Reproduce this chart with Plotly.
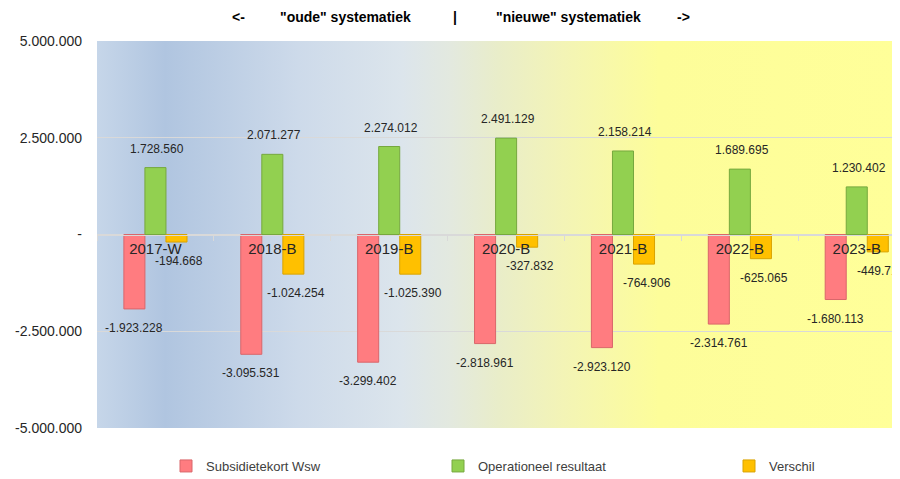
import base64
import plotly.graph_objects as go

categories = ["2017-W", "2018-B", "2019-B", "2020-B", "2021-B", "2022-B", "2023-B"]
subsidietekort = [-1923228, -3095531, -3299402, -2818961, -2923120, -2314761, -1680113]
operationeel = [1728560, 2071277, 2274012, 2491129, 2158214, 1689695, 1230402]
verschil = [-194668, -1024254, -1025390, -327832, -764906, -625065, -449711]

series_names = ["Subsidietekort Wsw", "Operationeel resultaat", "Verschil"]
series_values = [subsidietekort, operationeel, verschil]
series_colors = ["#ff7c80", "#92d050", "#ffc000"]
series_lines = ["#d9666a", "#76a83e", "#d9a300"]

ytickvals = [-5000000, -2500000, 0, 2500000, 5000000]
yticktext = ["-5.000.000", "-2.500.000", "-", "2.500.000", "5.000.000"]

def fmt(v):
    return f"{v:,}".replace(",", ".")

# background gradient (SVG data uri)
stops = [(0.0, "#c6d6e9"), (0.085, "#b0c5e0"), (0.25, "#cddaea"), (0.38, "#dce5ec"),
         (0.44, "#e3e9df"), (0.50, "#e9edc9"), (0.58, "#f3f4b6"), (0.70, "#fdfd9a"),
         (1.0, "#ffff99")]
stop_xml = "".join(f'<stop offset="{o}" stop-color="{c}"/>' for o, c in stops)
svg = ('<svg xmlns="http://www.w3.org/2000/svg" width="800" height="400" preserveAspectRatio="none">'
       '<defs><linearGradient id="g" x1="0" y1="0" x2="1" y2="0">' + stop_xml +
       '</linearGradient></defs><rect width="800" height="400" fill="url(#g)"/></svg>')
svg_uri = "data:image/svg+xml;base64," + base64.b64encode(svg.encode()).decode()

fig = go.Figure()
legend_ids = ["legend", "legend2", "legend3"]
for name, vals, col, lc, lg in zip(series_names, series_values, series_colors, series_lines, legend_ids):
    fig.add_trace(go.Bar(
        x=categories, y=vals, name=name, legend=lg,
        marker=dict(color=col, line=dict(color=lc, width=1)),
        hoverinfo="x+y+name",
    ))

bargap = 0.46
bw = (1 - bargap) / 3
offsets = [-bw, 0, bw]
xshifts = [0, 2, 3]
annotations = []
for k, vals in enumerate(series_values):
    for j, v in enumerate(vals):
        annotations.append(dict(
            x=j + offsets[k], y=v, xref="x", yref="y", text=fmt(v), showarrow=False,
            yshift=19 if v > 0 else -19, xshift=xshifts[k],
            font=dict(family="Liberation Sans, Arial, sans-serif", size=12, color="#262626"),
        ))

title_font = dict(family="Liberation Sans, Arial, sans-serif", size=14, color="#000000")
title_parts = [("<b><-</b>", 238), ('<b>"oude" systematiek</b>', 345), ("<b>|</b>", 455),
               ('<b>"nieuwe" systematiek</b>', 568), ("<b>-></b>", 683)]
for txt, px in title_parts:
    annotations.append(dict(x=(px - 97) / 803, y=1, xref="paper", yref="paper",
                            xanchor="center", yanchor="middle",
                            yshift=41 - 17, text=txt, showarrow=False, font=title_font))

leg_font = dict(family="Liberation Sans, Arial, sans-serif", size=13, color="#404040")
leg_x = [204 - 38, 476 - 38, 767 - 38]
legends = {}
for lg, px in zip(legend_ids, leg_x):
    legends[lg] = dict(x=(px - 97) / 803, y=-38 / 387, xanchor="left", yanchor="middle",
                       orientation="h", font=leg_font, bgcolor="rgba(0,0,0,0)", itemwidth=30)

# the page body adds an 8px offset, so the figure is 8px smaller and margins shifted
fig.update_layout(
    width=892, height=471,
    margin=dict(l=89, r=0, t=33, b=51, autoexpand=False),
    paper_bgcolor="white", plot_bgcolor="rgba(0,0,0,0)",
    barmode="group", bargap=bargap, bargroupgap=0,
    showlegend=True,
    annotations=annotations,
    images=[dict(source=svg_uri, xref="paper", yref="paper", x=0, y=1, sizex=1, sizey=1,
                 sizing="stretch", layer="below", xanchor="left", yanchor="top")],
    xaxis=dict(type="category", range=[-0.5, 6.37], anchor="free", position=0.5,
               showline=True, linecolor="#d9d9d9", linewidth=1,
               ticks="outside", ticklen=5, tickcolor="#d9d9d9", tickson="boundaries",
               showgrid=False, ticklabelstandoff=0, automargin=False,
               tickfont=dict(family="Liberation Sans, Arial, sans-serif", size=15, color="#262626")),
    yaxis=dict(range=[-5000000, 5000000], tickvals=ytickvals, ticktext=yticktext,
               showgrid=True, gridcolor="#d9d9d9", gridwidth=1, zeroline=False,
               ticks="", ticklabelstandoff=14, automargin=False,
               tickfont=dict(family="Liberation Sans, Arial, sans-serif", size=14, color="#262626")),
    **legends,
)

fig.write_html("out.html")
